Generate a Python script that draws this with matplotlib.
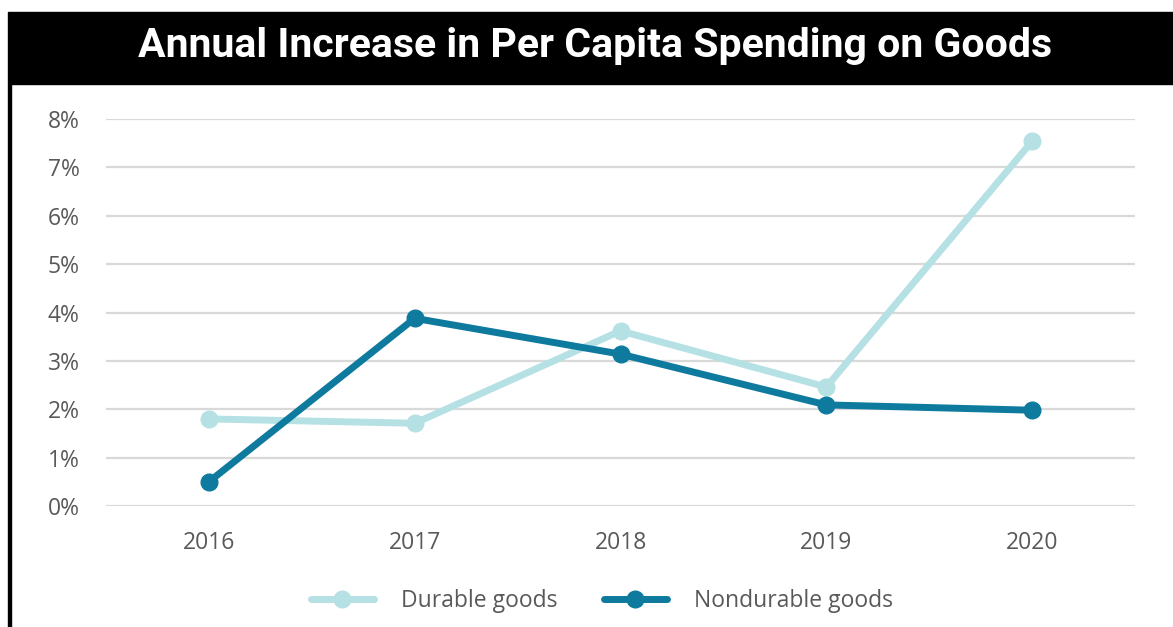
import matplotlib
matplotlib.use("Agg")
import matplotlib.pyplot as plt
from matplotlib.patches import Rectangle
from matplotlib.lines import Line2D

# Data
years = ["2016", "2017", "2018", "2019", "2020"]
durable = [1.80, 1.71, 3.62, 2.46, 7.54]
nondurable = [0.50, 3.88, 3.14, 2.09, 1.98]
y_ticks = [0, 1, 2, 3, 4, 5, 6, 7, 8]

light = "#b5e1e5"
dark = "#0d7a9e"
grey_text = "#595959"

plt.rcParams["font.family"] = ["Open Sans", "DejaVu Sans"]

W, H = 1173, 627
fig = plt.figure(figsize=(W / 100, H / 100), dpi=100)

# black title bar and left frame line
fig.patches.append(Rectangle((8 / W, 1 - 84 / H), 1 - 8 / W, 72 / H,
                             transform=fig.transFigure, color="black", zorder=0))
fig.patches.append(Rectangle((8 / W, 0), 3 / W, 1 - 84 / H,
                             transform=fig.transFigure, color="black", zorder=0))
fig.text(595 / W, 1 - 46 / H, "Annual Increase in Per Capita Spending on Goods",
         color="white", fontsize=29.5, fontweight="bold", ha="center", va="center",
         family=["Roboto", "DejaVu Sans"])

# axes: x 106..1135, y 0% at 506, 8% at 119
ax = fig.add_axes([106 / W, 1 - 506 / H, (1135 - 106) / W, (506 - 119) / H])
x = list(range(len(years)))
ax.plot(x, durable, color=light, lw=5, marker="o", ms=12, solid_capstyle="round",
        zorder=3)
ax.plot(x, nondurable, color=dark, lw=5, marker="o", ms=12, solid_capstyle="round",
        zorder=4)

ax.set_xlim(-0.5, 4.5)
ax.set_ylim(0, 8)
ax.set_yticks(y_ticks)
ax.set_yticklabels([f"{t}%" for t in y_ticks])
ax.set_xticks(x)
ax.set_xticklabels(years)
ax.grid(axis="y", color="#d9d9d9", lw=1.6)
ax.set_axisbelow(True)
for s in ax.spines.values():
    s.set_visible(False)
ax.tick_params(length=0, labelsize=16.5, labelcolor=grey_text)
ax.tick_params(axis="y", pad=19)
ax.tick_params(axis="x", pad=18)
ax.patch.set_alpha(0)

handles = [
    Line2D([], [], color=light, lw=5, marker="o", ms=12, solid_capstyle="round"),
    Line2D([], [], color=dark, lw=5, marker="o", ms=12, solid_capstyle="round"),
]
fig.legend(handles, ["Durable goods", "Nondurable goods"],
           loc="center", bbox_to_anchor=(602 / W, 1 - 601 / H), ncol=2,
           frameon=False, fontsize=16.5, labelcolor=grey_text,
           handlelength=2.75, handletextpad=1.2, columnspacing=2.0)

fig.savefig("out.png", dpi=100)
